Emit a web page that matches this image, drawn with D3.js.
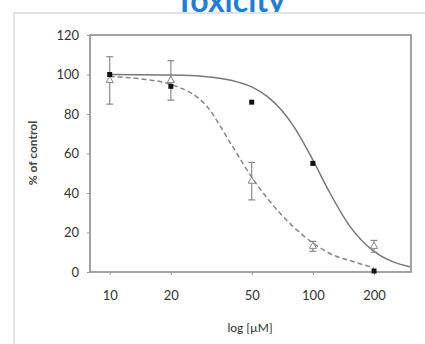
<!DOCTYPE html>
<html>
<head>
<meta charset="utf-8">
<script src="https://cdn.jsdelivr.net/npm/d3@7"></script>
<style>
  html, body { margin: 0; padding: 0; background: #fff; }
  svg { display: block; font-family: Lato, "Open Sans", sans-serif; }
</style>
</head>
<body>
<div id="chart"></div>
<script>
// concentrations (uM) and responses (% of control)
const doses = [10, 20, 50, 100, 200];
const filledValues = [100, 94, 86, 55, 0.5];
const openValues = [97, 97, 46, 13, 13];
const openErrors = [12, 10, 9.5, 2.5, 3];

// fitted curves
const solidCurve = [[10, 100], [20, 99.7], [30, 98.9], [40, 97], [50, 93.7], [60, 88.7],
  [70, 82], [80, 74.1], [100, 56.7], [120, 40.9], [150, 24], [200, 10.4], [250, 5], [300, 2.7]];
const dashedCurve = [[10, 99], [15, 97.5], [20, 95], [30, 84], [40, 64], [50, 48], [60, 37],
  [70, 29], [80, 23], [100, 14.7], [130, 8], [150, 6], [200, 2]];

const xTicks = [10, 20, 50, 100, 200];
const yTicks = [0, 20, 40, 60, 80, 100, 120];

const width = 425, height = 344;
const margin = {top: 35, right: 14, bottom: 72, left: 90};

const svg = d3.select('#chart').append('svg')
    .attr('width', width)
    .attr('height', height);

// title, partly covered by the panel
svg.append('text')
    .attr('x', 230)
    .attr('y', 12)
    .attr('text-anchor', 'middle')
    .attr('font-size', '32px')
    .attr('font-weight', 'bold')
    .attr('fill', '#1f7fd6')
    .text('Toxicity');

// panel
svg.append('rect')
    .attr('x', 14)
    .attr('y', 13)
    .attr('width', 430)
    .attr('height', 350)
    .attr('fill', '#fff')
    .attr('stroke', '#e2e2e2')
    .attr('stroke-width', 2);

const x = d3.scaleLog()
    .domain([8, 304])
    .range([margin.left, width - margin.right]);

const y = d3.scaleLinear()
    .domain([0, 120])
    .range([height - margin.bottom, margin.top]);

// plot frame
svg.append('rect')
    .attr('x', x.range()[0])
    .attr('y', y(120))
    .attr('width', x.range()[1] - x.range()[0])
    .attr('height', y(0) - y(120))
    .attr('fill', 'none')
    .attr('stroke', '#999')
    .attr('stroke-width', 1.8);

// y axis
const yAxis = svg.append('g')
    .attr('transform', `translate(${margin.left},0)`)
    .call(d3.axisLeft(y).tickValues(yTicks).tickSize(3).tickPadding(8));
yAxis.select('.domain').remove();
yAxis.selectAll('line').attr('stroke', '#999');
yAxis.selectAll('text')
    .attr('font-size', '13px')
    .attr('font-family', 'Lato, sans-serif')
    .attr('fill', '#333');

// x axis
const xAxis = svg.append('g')
    .attr('transform', `translate(0,${y(0)})`)
    .call(d3.axisBottom(x).tickValues(xTicks).tickFormat(d3.format('d')).tickSize(3).tickPadding(16));
xAxis.select('.domain').remove();
xAxis.selectAll('line').attr('stroke', '#999');
xAxis.selectAll('text')
    .attr('font-size', '13px')
    .attr('font-family', 'Lato, sans-serif')
    .attr('fill', '#333');

// axis titles
svg.append('text')
    .attr('transform', 'translate(37,153) rotate(-90)')
    .attr('text-anchor', 'middle')
    .attr('font-size', '12px')
    .attr('font-weight', 'bold')
    .attr('fill', '#444')
    .text('% of control');

svg.append('text')
    .attr('x', 250)
    .attr('y', 332)
    .attr('text-anchor', 'middle')
    .attr('font-size', '12px')
    .attr('fill', '#333')
    .text('log [µM]');

// curves
const line = d3.line()
    .x(d => x(d[0]))
    .y(d => y(d[1]))
    .curve(d3.curveMonotoneX);

svg.append('path')
    .datum(solidCurve)
    .attr('d', line)
    .attr('fill', 'none')
    .attr('stroke', '#777')
    .attr('stroke-width', 1.5);

svg.append('path')
    .datum(dashedCurve)
    .attr('d', line)
    .attr('fill', 'none')
    .attr('stroke', '#888')
    .attr('stroke-width', 1.5)
    .attr('stroke-dasharray', '5,3');

// error bars for open series
const openData = doses.map((d, i) => ({dose: d, value: openValues[i], err: openErrors[i]}));

const bars = svg.append('g')
    .attr('stroke', '#8a8a8a')
    .attr('stroke-width', 1.2);

bars.selectAll('line.v')
    .data(openData)
    .enter()
    .append('line')
    .attr('x1', d => x(d.dose))
    .attr('x2', d => x(d.dose))
    .attr('y1', d => y(d.value - d.err))
    .attr('y2', d => y(d.value + d.err));

[-1, 1].forEach(s => {
    bars.selectAll('line.c' + s)
        .data(openData)
        .enter()
        .append('line')
        .attr('x1', d => x(d.dose) - 3.5)
        .attr('x2', d => x(d.dose) + 3.5)
        .attr('y1', d => y(d.value + s * d.err))
        .attr('y2', d => y(d.value + s * d.err));
});

// open triangles
svg.append('g')
    .selectAll('path')
    .data(openData)
    .enter()
    .append('path')
    .attr('transform', d => `translate(${x(d.dose)},${y(d.value)})`)
    .attr('d', d3.symbol(d3.symbolTriangle, 22))
    .attr('fill', '#fff')
    .attr('stroke', '#888')
    .attr('stroke-width', 1);

// filled squares
const filledData = doses.map((d, i) => ({dose: d, value: filledValues[i]}));

svg.append('g')
    .selectAll('rect')
    .data(filledData)
    .enter()
    .append('rect')
    .attr('x', d => x(d.dose) - 2.5)
    .attr('y', d => y(d.value) - 2.5)
    .attr('width', 5)
    .attr('height', 5)
    .attr('fill', '#111');
</script>
</body>
</html>
